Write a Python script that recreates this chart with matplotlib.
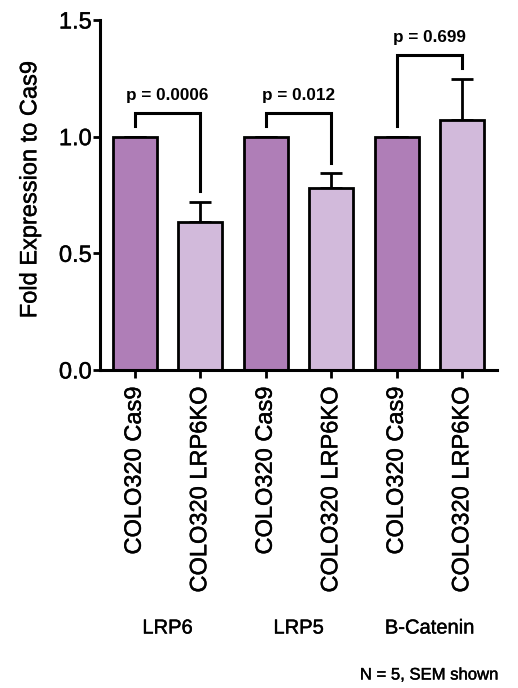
import matplotlib
matplotlib.use("Agg")
import matplotlib.pyplot as plt
import matplotlib.transforms as mtransforms
import matplotlib.patheffects as pe

plt.rcParams['font.family'] = ['Liberation Sans', 'DejaVu Sans']

# Data
samples = ["COLO320 Cas9", "COLO320 LRP6KO",
           "COLO320 Cas9", "COLO320 LRP6KO",
           "COLO320 Cas9", "COLO320 LRP6KO"]
fold_expression = [1.0, 0.636, 1.0, 0.78, 1.0, 1.073]
sem = [0.0, 0.086, 0.0, 0.064, 0.0, 0.175]
genes = ["LRP6", "LRP5", "B-Catenin"]
p_values = ["p = 0.0006", "p = 0.012", "p = 0.699"]
y_ticks = [0.0, 0.5, 1.0, 1.5]

dark = "#AF7EB7"
light = "#D2BADB"
colors = [dark, light] * 3

# Slightly heavier text strokes
heavy = [pe.withStroke(linewidth=0.3, foreground="black")]

fig = plt.figure(figsize=(5.18, 6.88), dpi=100)
ax = fig.add_axes([100 / 518, 1 - 370 / 688, 397 / 518, 350 / 688])

x = list(range(len(samples)))
ax.bar(x, fold_expression, width=0.67, color=colors, edgecolor="black",
       linewidth=2.0, zorder=2)
ax.errorbar(x, fold_expression, yerr=[[0] * len(sem), sem], fmt="none",
            ecolor="black", elinewidth=2.0, capsize=8, capthick=2.0, zorder=1)

ax.set_xlim(-0.53, 5.53)
ax.set_ylim(0, 1.5)
ax.set_yticks(y_ticks)
ax.set_yticklabels([f"{v:.1f}" for v in y_ticks])
ax.set_xticks(x)
ax.set_xticklabels(samples, rotation=90)

for side in ("top", "right"):
    ax.spines[side].set_visible(False)
for side in ("left", "bottom"):
    ax.spines[side].set_linewidth(2.2)
ax.tick_params(axis="both", width=2.0, length=5, labelsize=17, color="black")
ax.tick_params(axis="x", length=6, pad=6)
ax.tick_params(axis="y", pad=1)

ax.set_ylabel("Fold Expression to Cas9", fontsize=17)
ax.yaxis.set_label_coords(-0.148, 0.516)

# Significance brackets
for k, label in enumerate(p_values):
    i, j = 2 * k, 2 * k + 1
    y_left = fold_expression[i] + sem[i] + 0.045
    y_right = fold_expression[j] + sem[j] + 0.045
    y_top = max(y_left, y_right) + 0.055
    ax.plot([i, i, j, j], [y_left, y_top, y_top, y_right], color="black",
            linewidth=2.2, solid_joinstyle="miter", clip_on=False, zorder=3)
    ax.text((i + j) / 2, y_top + 0.075, label, ha="center", va="center",
            fontsize=12.3, fontweight="bold")

# Gene group labels under the sample names
trans = mtransforms.blended_transform_factory(ax.transData, fig.transFigure)
for k, gene in enumerate(genes):
    ax.text(2 * k + 0.5, 1 - 628 / 688, gene, transform=trans,
            ha="center", va="center", fontsize=14.5, path_effects=heavy)

fig.text(498 / 518, 1 - 675 / 688, "N = 5, SEM shown", ha="right",
         va="center", fontsize=12, path_effects=heavy)

for lbl in ax.get_xticklabels() + ax.get_yticklabels() + [ax.yaxis.label]:
    lbl.set_path_effects(heavy)

fig.savefig("out.png", dpi=100, facecolor="white")
